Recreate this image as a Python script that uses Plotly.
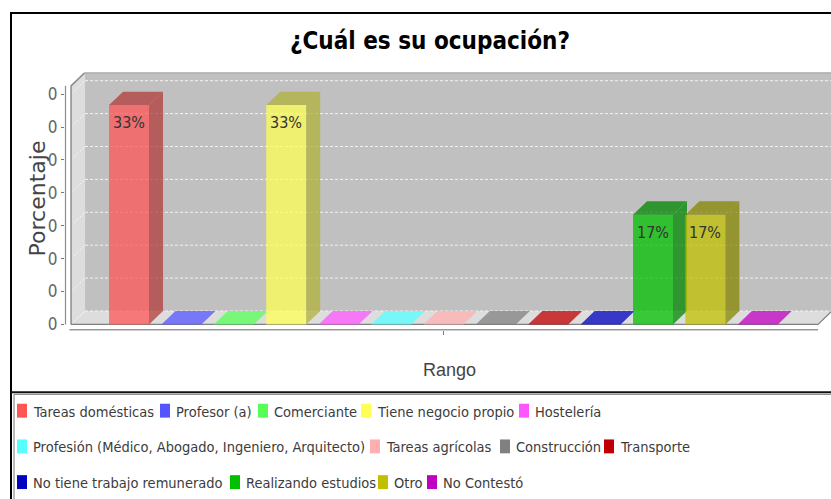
import plotly.graph_objects as go

W, H = 831, 499

# ---- data -------------------------------------------------------------
categorias = [
    "Tareas domésticas", "Profesor (a)", "Comerciante", "Tiene negocio propio",
    "Hostelería", "Profesión (Médico, Abogado, Ingeniero, Arquitecto)",
    "Tareas agrícolas", "Construcción", "Transporte",
    "No tiene trabajo remunerado", "Realizando estudios", "Otro", "No Contestó",
]
porcentajes = [0.3333, 0, 0, 0.3333, 0, 0, 0, 0, 0, 0, 0.1667, 0.1667, 0]
colores = [
    "#FF5555", "#5555FF", "#55FF55", "#FFFF55", "#FF55FF", "#55FFFF",
    "#FFAFAF", "#808080", "#C00000", "#0000C0", "#00C000", "#C0C000", "#C000C0",
]
ticks_y = [0, 0.05, 0.10, 0.15, 0.20, 0.25, 0.30, 0.35]

titulo = "¿Cuál es su ocupación?"
titulo_y = "Porcentaje"
titulo_x = "Rango"

# ---- geometry / style -------------------------------------------------
X_RANGE = [-1.222, 13.397]
Y_RANGE = [-0.009, 0.383]
BAR_W = 0.763          # width of the bar front face (category units)
DX, DY = 0.267, 0.0204  # 3D depth offset
WALL_L, WALL_R = -1.107, 13.149
ALPHA = 0.75
NARROW = "Liberation Sans Narrow, DejaVu Sans Condensed, Arial Narrow, sans-serif"
SANS = "Liberation Sans, Arial, sans-serif"

PLOT_L, PLOT_T, PLOT_B = 65, 73, 333

# legend layout: (row, left pixel of the colour key)
LEGEND_ROW_Y = [414, 450, 486]
LEGEND_SLOTS = [(0, 17), (0, 160), (0, 258), (0, 361), (0, 519),
                (1, 17), (1, 370), (1, 500), (1, 604),
                (2, 17), (2, 230), (2, 378), (2, 427)]


def px(x):
    return x / W


def py(y):
    return 1 - y / H


def rgba(hexcol, factor=1.0, alpha=ALPHA):
    r, g, b = (int(hexcol[k:k + 2], 16) for k in (1, 3, 5))
    r, g, b = (int(c * factor) for c in (r, g, b))
    return f"rgba({r},{g},{b},{alpha})"


def poly(xs, ys, fill):
    return go.Scatter(x=xs + [xs[0]], y=ys + [ys[0]], mode="lines", fill="toself",
                      fillcolor=fill, line=dict(width=0), hoverinfo="skip",
                      showlegend=False)


def label(x, y, text, size, color, family=NARROW, **kw):
    d = dict(x=px(x), y=py(y), xref="paper", yref="paper", xanchor="center",
             yanchor="middle", text=text, showarrow=False,
             font=dict(family=family, size=size, color=color))
    d.update(kw)
    return d


fig = go.Figure()
shapes = []

y_top = Y_RANGE[1]
front_top = y_top - DY

# walls of the 3D box
shapes.append(dict(type="path", xref="x", yref="y", layer="below",
                   path=f"M{WALL_L + DX},{DY} L{WALL_R + DX + 1},{DY} L{WALL_R + DX + 1},{y_top} L{WALL_L + DX},{y_top} Z",
                   fillcolor="#C0C0C0", line=dict(width=0)))
shapes.append(dict(type="path", xref="x", yref="y", layer="below",
                   path=f"M{WALL_L},0 L{WALL_L + DX},{DY} L{WALL_L + DX},{y_top} L{WALL_L},{front_top} Z",
                   fillcolor="#DDDDDD", line=dict(width=0)))
shapes.append(dict(type="path", xref="x", yref="y", layer="below",
                   path=f"M{WALL_L},0 L{WALL_R},0 L{WALL_R + DX},{DY} L{WALL_L + DX},{DY} Z",
                   fillcolor="#DDDDDD", line=dict(width=0)))

# gridlines on back and side walls
for t in ticks_y:
    shapes.append(dict(type="line", xref="x", yref="y", layer="below",
                       x0=WALL_L + DX, x1=WALL_R + DX + 1, y0=t + DY, y1=t + DY,
                       line=dict(color="rgba(245,245,245,0.95)", width=1, dash="3px,2px")))
    shapes.append(dict(type="line", xref="x", yref="y", layer="below",
                       x0=WALL_L, x1=WALL_L + DX, y0=t, y1=t + DY,
                       line=dict(color="rgba(250,250,250,0.9)", width=1, dash="2px,2px")))

# outlines of the box
shapes.append(dict(type="path", xref="x", yref="y", layer="below",
                   path=f"M{WALL_L},0 L{WALL_L},{front_top} L{WALL_L + DX},{y_top} L{WALL_R + DX + 1},{y_top}",
                   line=dict(color="#8C8C8C", width=1.5)))
shapes.append(dict(type="path", xref="x", yref="y", layer="below",
                   path=f"M{WALL_L},0 L{WALL_R},0 L{WALL_R + DX},{DY}",
                   line=dict(color="#808080", width=1.2)))

# bars
annotations = []
for i, (v, c) in enumerate(zip(porcentajes, colores)):
    x0, x1 = i - BAR_W / 2, i + BAR_W / 2
    if v > 0:
        fig.add_trace(poly([x0, x1, x1, x0], [0, 0, v, v], rgba(c)))
        fig.add_trace(poly([x1, x1 + DX, x1 + DX, x1], [0, DY, v + DY, v], rgba(c, 0.7)))
        fig.add_trace(poly([x0, x1, x1 + DX, x0 + DX], [v, v, v + DY, v + DY], rgba(c, 0.7)))
        annotations.append(dict(x=i, y=v, xref="x", yref="y", xanchor="center",
                                yanchor="top", yshift=-6,
                                text=f"{round(v * 100)}%", showarrow=False,
                                font=dict(family=NARROW, size=16, color="#333333")))
    else:
        fig.add_trace(poly([x0, x1, x1 + DX, x0 + DX], [0, 0, DY, DY], rgba(c)))

# axis lines
shapes.append(dict(type="line", xref="paper", yref="y", x0=px(PLOT_L + 0.5), x1=px(PLOT_L + 0.5),
                   y0=0, y1=front_top, line=dict(color="#8C8C8C", width=1.2)))
shapes.append(dict(type="line", xref="x", yref="paper", x0=WALL_L - 0.03, x1=WALL_R,
                   y0=py(PLOT_B - 0.5), y1=py(PLOT_B - 0.5), line=dict(color="#999999", width=1.5)))

# chart border and legend frame
shapes.append(dict(type="path", xref="paper", yref="paper",
                   path=f"M{px(11)},{py(H + 5)} L{px(11)},{py(13)} L{px(W + 5)},{py(13)}",
                   line=dict(color="#000000", width=2)))
shapes.append(dict(type="line", xref="paper", yref="paper", x0=px(11), x1=px(W + 5),
                   y0=py(395.5), y1=py(395.5), line=dict(color="#111111", width=2)))
shapes.append(dict(type="path", xref="paper", yref="paper",
                   path=f"M{px(14)},{py(H + 5)} L{px(14)},{py(397.5)} L{px(W + 5)},{py(397.5)}",
                   line=dict(color="#777777", width=1)))

# legend
for (row, lx), name, c in zip(LEGEND_SLOTS, categorias, colores):
    yc = LEGEND_ROW_Y[row]
    shapes.append(dict(type="rect", xref="paper", yref="paper",
                       x0=px(lx), x1=px(lx + 10), y0=py(yc - 7), y1=py(yc + 7),
                       fillcolor=c, line=dict(width=0)))
    annotations.append(label(lx + 14, yc + 1, name, 14.5, "#3C3C3C", xanchor="left"))

# titles
annotations.append(label(430, 41, f"<b>{titulo}</b>", 24, "#000000"))
annotations.append(label(37, 200, titulo_y, 22, "#444444",
                         family="DejaVu Sans, sans-serif", textangle=-90))
annotations.append(label(449, 373, titulo_x, 18, "#444444", family=SANS))

fig.update_layout(
    width=W, height=H,
    margin=dict(l=0, r=0, t=0, b=0),
    paper_bgcolor="white", plot_bgcolor="white",
    showlegend=False,
    shapes=shapes,
    annotations=annotations,
    xaxis=dict(domain=[px(PLOT_L), 1], range=X_RANGE, showgrid=False, zeroline=False,
               showline=False, tickvals=[6], ticktext=[""], ticks="outside",
               ticklen=4, tickcolor="#777777", fixedrange=True),
    yaxis=dict(domain=[py(PLOT_B), py(PLOT_T)], range=Y_RANGE, showgrid=False, zeroline=False,
               showline=False, tickvals=ticks_y, tickformat=".0f", ticks="outside",
               ticklen=3, tickcolor="#777777",
               tickfont=dict(family=NARROW, size=17, color="#666666"), fixedrange=True),
)

fig.write_html("out.html")
